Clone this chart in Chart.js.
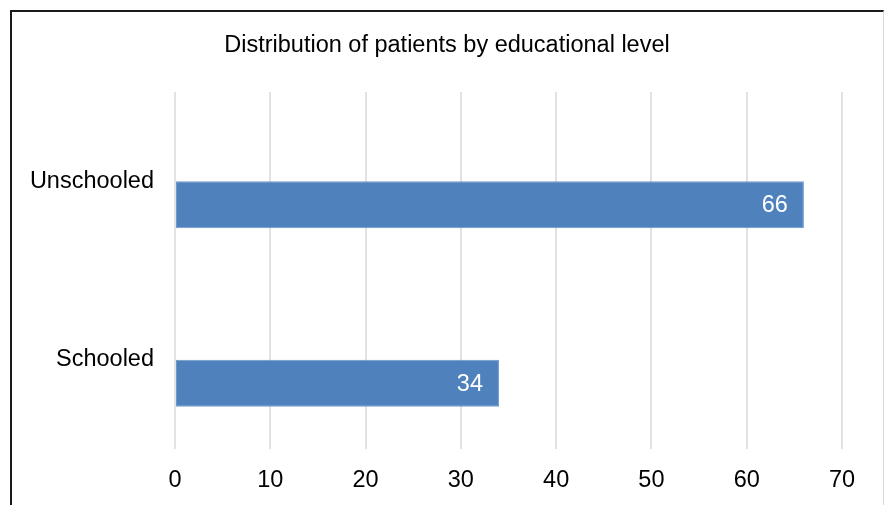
<!DOCTYPE html>
<html>
<head>
<meta charset="utf-8">
<script src="https://cdn.jsdelivr.net/npm/chart.js@4"></script>
<style>
    body { margin: 0; background: #fff; }
    #wrap { position: relative; width: 884px; height: 505px; overflow: hidden; }
    /* cadre du graphique : gauche et haut en noir, droite en gris clair */
    #frame {
        position: absolute; left: 10px; top: 10px; width: 871px; height: 520px;
        border-left: 2px solid #1a1a1a; border-top: 2px solid #1a1a1a; border-right: 1px solid #d9d9d9;
    }
    #chart { position: absolute; left: 0; top: 0; }
</style>
</head>
<body>
<div id="wrap">
    <div id="frame"></div>
    <canvas id="chart" width="884" height="505"></canvas>
</div>
<script>
const TITLE = 'Distribution of patients by educational level';
const categories = ['Unschooled', 'Schooled'];
const patients = [66, 34];
const emptySeries = [null, null]; // série vide, décale la barre vers le bas de la catégorie
const xTicks = [0, 10, 20, 30, 40, 50, 60, 70];

const FONT = "'Liberation Sans', Arial, sans-serif";
const BAR_COLOR = '#4F81BD';

// Titre centré sur le cadre
const titlePlugin = {
    id: 'titleText',
    afterDraw(chart) {
        const ctx = chart.ctx;
        ctx.save();
        ctx.font = `23.5px ${FONT}`;
        ctx.fillStyle = '#000';
        ctx.textAlign = 'center';
        ctx.textBaseline = 'middle';
        ctx.fillText(TITLE, 447, 46);
        ctx.restore();
    }
};

// Valeurs en blanc à l'intérieur du bout des barres
const valueLabels = {
    id: 'valueLabels',
    afterDatasetsDraw(chart) {
        const ctx = chart.ctx;
        const meta = chart.getDatasetMeta(1);
        ctx.save();
        ctx.font = `23.5px ${FONT}`;
        ctx.fillStyle = '#fff';
        ctx.textAlign = 'right';
        ctx.textBaseline = 'middle';
        meta.data.forEach((bar, i) => {
            ctx.fillText(String(patients[i]), bar.x - 16, bar.y + 1);
        });
        ctx.restore();
    }
};

new Chart(document.getElementById('chart'), {
    type: 'bar',
    data: {
        labels: categories,
        datasets: [
            { label: '', data: emptySeries, backgroundColor: BAR_COLOR },
            { label: 'Patients', data: patients, backgroundColor: BAR_COLOR, borderColor: '#6f98c9', borderWidth: 1, borderSkipped: false }
        ]
    },
    options: {
        indexAxis: 'y',
        responsive: false,
        animation: false,
        layout: { padding: { top: 92, right: 42, left: 0, bottom: 0 } },
        datasets: { bar: { categoryPercentage: 0.527, barPercentage: 1 } },
        plugins: { legend: { display: false }, tooltip: { enabled: false }, title: { display: false } },
        scales: {
            x: {
                min: 0, max: 70,
                afterBuildTicks(axis) { axis.ticks = xTicks.map(v => ({ value: v })); },
                afterFit(axis) { axis.height = 56; },
                grid: { color: '#e2e2e2', lineWidth: 2, drawTicks: false },
                border: { display: false },
                ticks: { color: '#000', font: { family: FONT, size: 23.5 }, padding: 17 }
            },
            y: {
                afterFit(axis) { axis.width = 175; },
                grid: { display: false, drawTicks: false },
                border: { display: false },
                ticks: { color: '#000', font: { family: FONT, size: 23.5 }, padding: 21 }
            }
        }
    },
    plugins: [titlePlugin, valueLabels]
});
</script>
</body>
</html>
